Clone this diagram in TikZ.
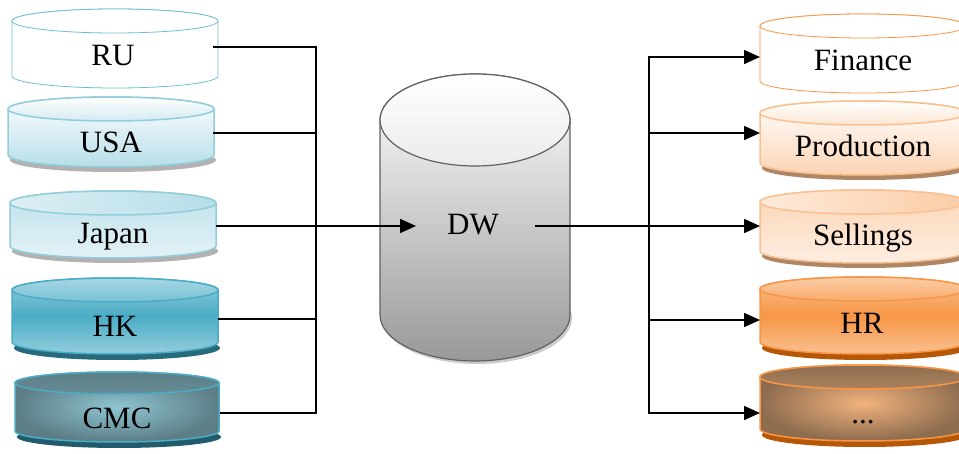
\documentclass[tikz,border=0pt]{standalone}
\usepackage{fontspec}
\setmainfont{Liberation Serif}
\usetikzlibrary{arrows.meta}
\definecolor{bluA}{HTML}{4BACC6}
\definecolor{bluL}{HTML}{92CDDC}
\definecolor{bluP}{HTML}{B7DEE8}
\definecolor{bluD}{HTML}{31849B}
\definecolor{tealD}{HTML}{5D7E86}
\definecolor{tealC}{HTML}{8EC5D2}
\definecolor{orA}{HTML}{F79646}
\definecolor{orL}{HTML}{FAC090}
\definecolor{orP}{HTML}{FBD4B4}
\definecolor{orD}{HTML}{B65708}
\definecolor{brD}{HTML}{8E6D4F}
\definecolor{brC}{HTML}{F2B27E}
\newcommand\dbcyl[7]{%
  \fill[#6 shd] ({#1+2},{453-#3-#7}) ellipse [x radius=#4, y radius=#5];
  \path[#6 body] ({#1-#4},{453-#2}) -- ({#1-#4},{453-#3})
    arc[start angle=180,end angle=360,x radius=#4,y radius=#5]
    -- ({#1+#4},{453-#2})
    arc[start angle=0,end angle=180,x radius=#4,y radius=#5] -- cycle;
  \path[#6 top] (#1,{453-#2}) ellipse [x radius=#4, y radius=#5];
}
\begin{document}
\begin{tikzpicture}[x=1pt,y=1pt,
  lbl/.style={font=\fontsize{31}{36}\selectfont, anchor=base, inner sep=0pt},
  link/.style={line width=1.6pt, black},
  arr/.style={line width=1.6pt, black, -{Triangle[length=16pt,width=14pt]}},
  hatch/.style={fill=black!30},
  % left
  ru shd/.style={fill=none},
  ru body/.style={draw=bluA!80, line width=0.8pt, fill=white},
  ru top/.style={draw=bluA!80, line width=0.8pt, fill=white},
  usa shd/.style={hatch},
  usa body/.style={draw=bluL, line width=1.5pt, top color=white, bottom color=bluP},
  usa top/.style={draw=bluL, line width=1.5pt, top color=white, bottom color=bluP!60},
  jp shd/.style={hatch},
  jp body/.style={draw=bluL, line width=1.5pt, top color=bluP!90, bottom color=bluP!40},
  jp top/.style={draw=bluL, line width=1.5pt, left color=bluP!50, right color=bluP},
  hk shd/.style={fill=bluD!80!black},
  hk body/.style={draw=bluA, line width=1.5pt, top color=bluA!60, bottom color=bluA!60, middle color=bluA},
  hk top/.style={draw=bluA, line width=1.5pt, top color=bluA!50, bottom color=bluA!75},
  cmc shd/.style={fill=bluD!70!black},
  cmc body/.style={draw=bluA, line width=1.5pt, inner color=tealC, outer color=tealD},
  cmc top/.style={draw=bluA, line width=1.5pt, top color=tealD, bottom color=tealD!80!tealC},
  % right
  fin shd/.style={fill=none},
  fin body/.style={draw=orA, line width=0.8pt, fill=white},
  fin top/.style={draw=orA, line width=0.8pt, fill=white},
  pro shd/.style={fill=black!30!orL},
  pro body/.style={draw=orL, line width=1.5pt, top color=white, bottom color=orP},
  pro top/.style={draw=orL, line width=1.5pt, top color=white, bottom color=orP!60},
  sel shd/.style={fill=black!30!orL},
  sel body/.style={draw=orL, line width=1.5pt, top color=orP, bottom color=orP!40},
  sel top/.style={draw=orL, line width=1.5pt, left color=orP!50, right color=orL!80},
  hr shd/.style={fill=orD},
  hr body/.style={draw=orA, line width=1.5pt, top color=orL, bottom color=orL, middle color=orA},
  hr top/.style={draw=orA, line width=1.5pt, top color=orL!80, bottom color=orA!80},
  dot shd/.style={fill=orD},
  dot body/.style={draw=orA, line width=1.5pt, inner color=brC, outer color=brD},
  dot top/.style={draw=orA, line width=1.5pt, top color=brD, bottom color=brD!70!brC},
  % centre
  dw shd/.style={fill=black!20},
  dw body/.style={draw=black!62, line width=1.2pt, top color=white, bottom color=black!40},
  dw top/.style={draw=black!62, line width=1.2pt, top color=white, bottom color=black!8},
]
\useasboundingbox (0,0) rectangle (959,453);

% source cylinders
\dbcyl{115}{21}{76}{103}{12}{ru}{0}
\dbcyl{111}{109}{155}{103}{12}{usa}{5}
\dbcyl{113}{203}{246}{103}{12}{jp}{5}
\dbcyl{115}{290}{342}{103}{12}{hk}{6}
\dbcyl{117}{383}{431}{102}{11}{cmc}{6}
% target cylinders
\dbcyl{863}{26}{81}{103}{12}{fin}{0}
\dbcyl{863}{113}{163}{103}{12}{pro}{5}
\dbcyl{863}{202}{251}{103}{12}{sel}{5}
\dbcyl{863}{289}{342}{103}{12}{hr}{6}
\dbcyl{863}{377}{429}{103}{12}{dot}{6}
% data warehouse
\dbcyl{475}{120}{315}{95}{46}{dw}{3}

% labels
\node[lbl] (RU)  at (113,{453-66})  {RU};
\node[lbl] (USA) at (111,{453-153}) {USA};
\node[lbl] (JP)  at (113,{453-244}) {Japan};
\node[lbl] (HK)  at (115,{453-336}) {HK};
\node[lbl] (CMC) at (117,{453-428}) {CMC};
\node[lbl] (DW)  at (473,{453-235}) {DW};
\node[lbl] (FIN) at (863,{453-71})  {Finance};
\node[lbl] (PRO) at (863,{453-157}) {Production};
\node[lbl] (SEL) at (863,{453-246}) {Sellings};
\node[lbl] (HR)  at (862,{453-334}) {HR};
\node[lbl] (DOT) at (863,{453-423}) {...};

% connector end points
\coordinate (RUr)  at (213,{453-47});
\coordinate (USAr) at (213,{453-133});
\coordinate (JPr)  at (216,{453-226});
\coordinate (HKr)  at (218,{453-319});
\coordinate (CMCr) at (220,{453-413});
\coordinate (jL)   at (316,{453-226});
\coordinate (DWin) at (416,{453-226});
\coordinate (DWout) at (535,{453-226});
\coordinate (jR)   at (649,{453-226});
\coordinate (FINl) at (760,{453-57});
\coordinate (PROl) at (760,{453-133});
\coordinate (SELl) at (760,{453-226});
\coordinate (HRl)  at (760,{453-320});
\coordinate (DOTl) at (760,{453-413});

% connectors
\draw[link] (RUr) -| (jL);
\draw[link] (USAr) -| (jL);
\draw[link] (HKr) -| (jL);
\draw[link] (CMCr) -| (jL);
\draw[link] (JPr) -- (jL);
\draw[arr] (jL) -- (DWin);
\draw[link] (DWout) -- (jR);
\draw[arr] (jR) |- (FINl);
\draw[arr] (jR) |- (PROl);
\draw[arr] (jR) -- (SELl);
\draw[arr] (jR) |- (HRl);
\draw[arr] (jR) |- (DOTl);
\end{tikzpicture}
\end{document}
